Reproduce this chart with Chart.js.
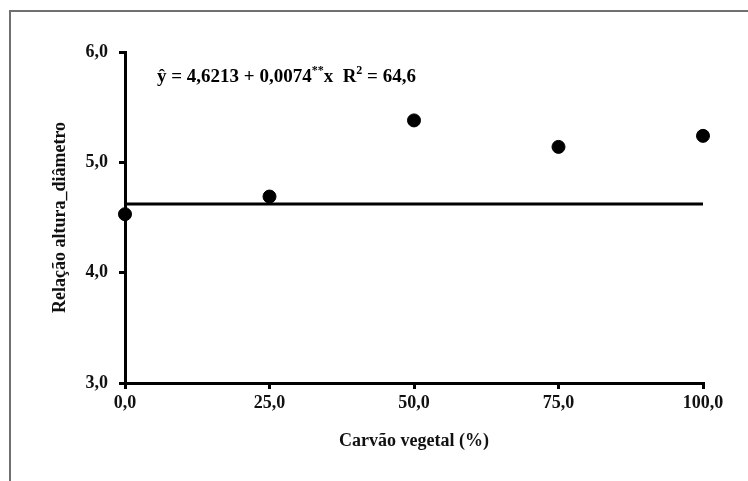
<!DOCTYPE html>
<html>
<head>
<meta charset="utf-8">
<script src="https://cdn.jsdelivr.net/npm/chart.js@4"></script>
<style>
  html, body { margin: 0; padding: 0; background: #fff; }
  #wrap { width: 748px; height: 481px; position: relative; }
</style>
</head>
<body>
<div id="wrap"><canvas id="chart" width="748" height="481"></canvas></div>
<script>
// dados
var carvao = [0, 25, 50, 75, 100];
var relacao = [4.53, 4.69, 5.38, 5.14, 5.24];
var linhaX = [0, 100];
var linhaY = [4.6213, 4.6213];
var xTicks = [0, 25, 50, 75, 100];
var yTicks = [3, 4, 5, 6];

var fonte = "'Liberation Serif', 'Times New Roman', serif";

function virgula(v) { return v.toFixed(1).replace(".", ","); }

// moldura cinza e equacao
var extras = {
    id: "extras",
    beforeDraw: function (chart) {
        var ctx = chart.ctx;
        ctx.save();
        ctx.strokeStyle = "#707070";
        ctx.lineWidth = 2;
        ctx.beginPath();
        ctx.moveTo(10, 481);
        ctx.lineTo(10, 11);
        ctx.lineTo(748, 11);
        ctx.stroke();
        ctx.restore();
    },
    afterDraw: function (chart) {
        var ctx = chart.ctx;
        ctx.save();
        ctx.fillStyle = "#000";
        ctx.textBaseline = "alphabetic";
        var x = 157, y = 82;
        var partes = [
            ["ŷ = 4,6213 + 0,0074", 19, 0],
            ["**", 12, -8],
            ["x  R", 19, 0],
            ["2", 12, -8],
            [" = 64,6", 19, 0]
        ];
        partes.forEach(function (p) {
            ctx.font = "bold " + p[1] + "px " + fonte;
            ctx.fillText(p[0], x, y + p[2]);
            x += ctx.measureText(p[0]).width;
        });
        ctx.restore();
    }
};

new Chart(document.getElementById("chart").getContext("2d"), {
    type: "scatter",
    data: {
        datasets: [
            {
                label: "Relação altura_diâmetro",
                data: carvao.map(function (c, i) { return { x: c, y: relacao[i] }; }),
                backgroundColor: "#000",
                borderColor: "#000",
                pointRadius: 6.5,
                pointHoverRadius: 6.5,
                clip: false,
                order: 1
            },
            {
                type: "line",
                label: "ajuste",
                data: linhaX.map(function (c, i) { return { x: c, y: linhaY[i] }; }),
                borderColor: "#000",
                borderWidth: 3,
                pointRadius: 0,
                fill: false,
                clip: false,
                order: 2
            }
        ]
    },
    options: {
        responsive: false,
        animation: false,
        events: [],
        layout: { padding: { top: 52, right: 45, left: 0, bottom: 0 } },
        plugins: { legend: { display: false }, tooltip: { enabled: false } },
        scales: {
            x: {
                type: "linear",
                min: 0,
                max: 100,
                afterFit: function (s) { s.height = 98; },
                afterBuildTicks: function (s) { s.ticks = xTicks.map(function (v) { return { value: v }; }); },
                ticks: {
                    callback: function (v) { return virgula(v); },
                    color: "#111",
                    padding: 4,
                    font: { family: fonte, size: 18, weight: "bold" }
                },
                grid: { drawOnChartArea: false, drawTicks: true, tickLength: 6, color: "#000", lineWidth: 3 },
                border: { display: true, color: "#000", width: 3 },
                title: {
                    display: true,
                    text: "Carvão vegetal (%)",
                    color: "#111",
                    padding: { top: 0, bottom: 29 },
                    font: { family: fonte, size: 18, weight: "bold" }
                }
            },
            y: {
                type: "linear",
                min: 3,
                max: 6,
                afterFit: function (s) { s.width = 125; },
                afterBuildTicks: function (s) { s.ticks = yTicks.map(function (v) { return { value: v }; }); },
                ticks: {
                    callback: function (v) { return virgula(v); },
                    color: "#111",
                    padding: 11,
                    font: { family: fonte, size: 18, weight: "bold" }
                },
                grid: { drawOnChartArea: false, drawTicks: true, tickLength: 6, color: "#000", lineWidth: 3 },
                border: { display: true, color: "#000", width: 3 },
                title: {
                    display: true,
                    text: "Relação altura_diâmetro",
                    color: "#111",
                    padding: { top: 50, bottom: 0 },
                    font: { family: fonte, size: 18, weight: "bold" }
                }
            }
        }
    },
    plugins: [extras]
});
</script>
</body>
</html>
